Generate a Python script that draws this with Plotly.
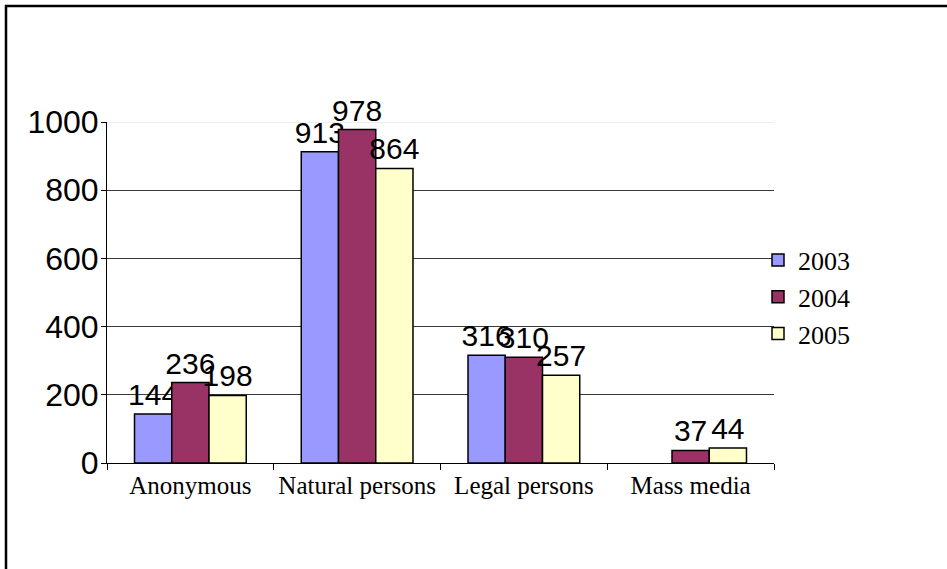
import plotly.graph_objects as go

categories = ["Anonymous", "Natural persons", "Legal persons", "Mass media"]
years = ["2003", "2004", "2005"]
values_2003 = [144, 913, 316, None]
values_2004 = [236, 978, 310, 37]
values_2005 = [198, 864, 257, 44]
colors = ["#9999FF", "#993366", "#FFFFCC"]
y_ticks = [0, 200, 400, 600, 800, 1000]

series = [values_2003, values_2004, values_2005]

fig = go.Figure()
for name, vals, col in zip(years, series, colors):
    fig.add_trace(go.Bar(
        x=categories, y=vals, name=name,
        marker=dict(color=col, line=dict(color="black", width=1.5)),
        text=[("" if v is None else str(v)) for v in vals],
        textposition="outside", textangle=0, constraintext="none",
        cliponaxis=False,
        textfont=dict(family="Liberation Sans, Arial", size=30, color="black"),
    ))

W, H = 947, 569
L, R, T, B = 107, 173, 122, 106
pw, ph = W - L - R, H - T - B

def px_x(p):
    return (p - L) / pw

def px_y(p):
    return (H - B - p) / ph

fig.update_layout(
    width=W, height=H,
    margin=dict(l=L, r=R, t=T, b=B, pad=0, autoexpand=False),
    paper_bgcolor="white", plot_bgcolor="white",
    barmode="group", bargap=0.33, bargroupgap=0,
    showlegend=True,
    legend=dict(
        x=px_x(758), xanchor="left", y=px_y(297), yanchor="middle",
        font=dict(family="Liberation Serif, Times New Roman", size=26, color="black"),
        bgcolor="rgba(0,0,0,0)", tracegroupgap=0, itemwidth=30,
    ),
    xaxis=dict(
        type="category", showline=True, linecolor="black", linewidth=1,
        ticks="outside", tickson="boundaries", ticklen=6, tickcolor="black",
        tickangle=0, automargin=False,
        tickfont=dict(family="Liberation Serif, Times New Roman", size=25, color="black"),
        showgrid=False,
    ),
    yaxis=dict(
        range=[0, 1000], tickvals=y_ticks, automargin=False,
        showline=True, linecolor="black", linewidth=1,
        ticks="outside", ticklen=5, tickcolor="black",
        ticklabelstandoff=-4,
        tickfont=dict(family="Liberation Sans, Arial", size=32, color="black"),
        showgrid=True, gridcolor="#3a3a3a", gridwidth=1,
        zeroline=False,
    ),
    shapes=[
        dict(type="line", xref="paper", yref="y", x0=0, x1=1, y0=1000, y1=1000,
             line=dict(color="#eeeeee", width=2), layer="below"),
        dict(type="line", xref="paper", yref="paper",
             x0=px_x(5), x1=px_x(948), y0=px_y(6), y1=px_y(6),
             line=dict(color="black", width=2.5)),
        dict(type="line", xref="paper", yref="paper",
             x0=px_x(6), x1=px_x(6), y0=px_y(5), y1=px_y(570),
             line=dict(color="black", width=2.5)),
    ],
)

fig.write_html(
    "out.html",
    config={"displayModeBar": False},
    post_script="document.body.style.margin='0';"
                "document.documentElement.style.overflow='hidden';"
                "document.body.style.overflow='hidden';",
)
